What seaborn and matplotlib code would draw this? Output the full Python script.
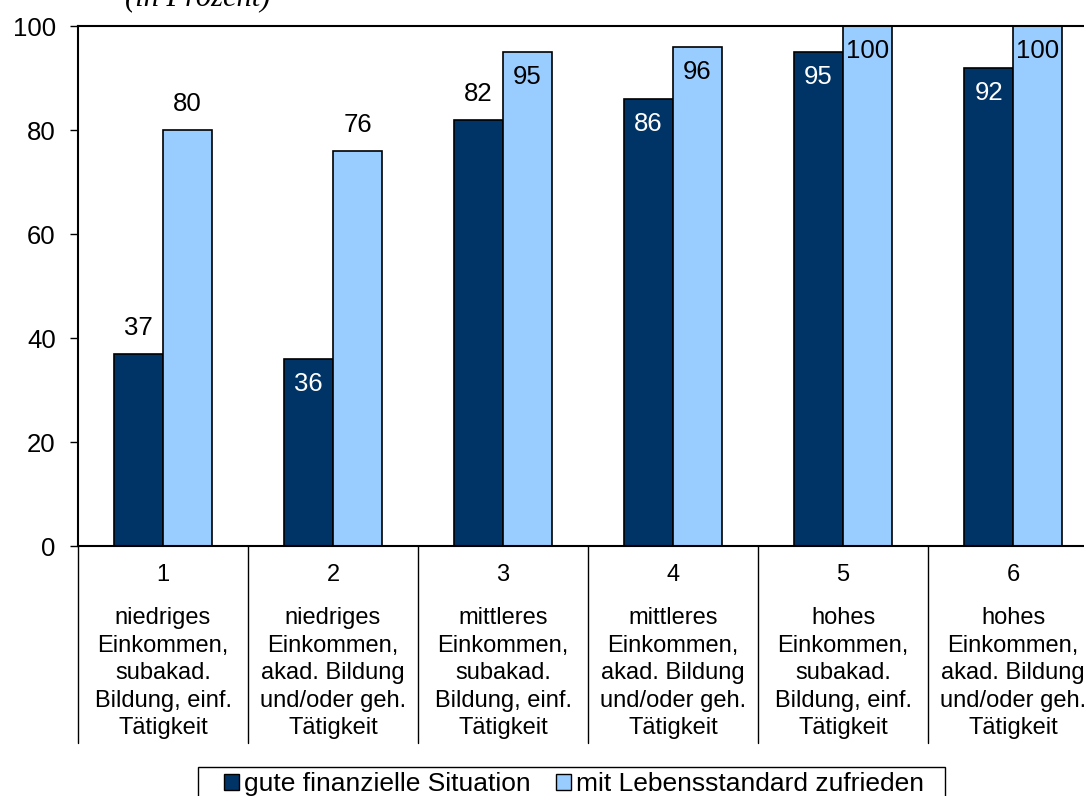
import matplotlib
matplotlib.use("Agg")
import matplotlib.pyplot as plt
import matplotlib.patches as mpatches
import matplotlib.transforms as mtransforms
import pandas as pd
import seaborn as sns

# data
groups = ["1", "2", "3", "4", "5", "6"]
descriptions = [
    "niedriges\nEinkommen,\nsubakad.\nBildung, einf.\nTätigkeit",
    "niedriges\nEinkommen,\nakad. Bildung\nund/oder geh.\nTätigkeit",
    "mittleres\nEinkommen,\nsubakad.\nBildung, einf.\nTätigkeit",
    "mittleres\nEinkommen,\nakad. Bildung\nund/oder geh.\nTätigkeit",
    "hohes\nEinkommen,\nsubakad.\nBildung, einf.\nTätigkeit",
    "hohes\nEinkommen,\nakad. Bildung\nund/oder geh.\nTätigkeit",
]
series_names = ["gute finanzielle Situation", "mit Lebensstandard zufrieden"]
finanziell = [37, 36, 82, 86, 95, 92]
zufrieden = [80, 76, 95, 96, 100, 100]
# label drawn inside the bar (True) or above it (False)
inside_fin = [False, True, False, True, True, True]
inside_zuf = [False, False, True, True, True, True]

colors = ["#003366", "#99CCFF"]

df = pd.DataFrame({
    "gruppe": groups * 2,
    "serie": [series_names[0]] * 6 + [series_names[1]] * 6,
    "wert": finanziell + zufrieden,
})

sns.set_style("white")
plt.rcParams["font.family"] = ["Liberation Sans", "DejaVu Sans"]
plt.rcParams["text.color"] = "black"

fig = plt.figure(figsize=(10.84, 7.96), dpi=100)
ax = fig.add_axes([0.072, 0.314, 0.941, 0.6533])

sns.barplot(
    data=df,
    x="gruppe",
    y="wert",
    hue="serie",
    palette=colors,
    width=0.576,
    edgecolor="black",
    linewidth=1.2,
    saturation=1,
    legend=False,
    ax=ax,
)

ax.set_xlim(-0.5, 5.5)
ax.set_ylim(0, 100)
ax.set_yticks([0, 20, 40, 60, 80, 100])
ax.tick_params(axis="y", labelsize=18.5, length=6, width=1, direction="out",
               left=True, pad=10, color="black", labelcolor="black")
ax.tick_params(axis="x", bottom=False, labelbottom=False)
ax.set_xlabel("")
ax.set_ylabel("")

for side in ["left", "top", "right", "bottom"]:
    ax.spines[side].set_color("black")
    ax.spines[side].set_linewidth(1.5)

# value labels
for container, values, inside, txt_col in zip(
    ax.containers,
    [finanziell, zufrieden],
    [inside_fin, inside_zuf],
    ["white", "black"],
):
    for bar, v, ins in zip(container, values, inside):
        xc = bar.get_x() + bar.get_width() / 2
        if ins:
            ax.text(xc, v - 4.8, str(v), ha="center", va="center",
                    fontsize=18.5, color=txt_col)
        else:
            ax.text(xc, v + 5, str(v), ha="center", va="center",
                    fontsize=18.5, color="black")

# category table below the axis
trans = mtransforms.blended_transform_factory(ax.transData, ax.transAxes)
for i, (g, d) in enumerate(zip(groups, descriptions)):
    ax.text(i, -0.056, g, transform=trans, ha="center", va="center",
            fontsize=17)
    ax.text(i, -0.118, d, transform=trans, ha="center", va="top",
            fontsize=17, linespacing=1.32)

for xb in [-0.5, 0.5, 1.5, 2.5, 3.5, 4.5, 5.5]:
    ax.plot([xb, xb], [0, -0.379], transform=trans, color="black",
            lw=1, clip_on=False)

fig.text(0.115, 1 - 5 / 796, "(in Prozent)", fontsize=22, style="italic",
         family=["Liberation Serif", "DejaVu Serif"], va="baseline",
         ha="left")

# legend (frame drawn separately, it runs off the bottom edge)
handles = [
    plt.Rectangle((0, 0), 1, 1, facecolor=c, edgecolor="black", linewidth=1)
    for c in colors
]
leg = fig.legend(
    handles,
    series_names,
    loc="center left",
    bbox_to_anchor=(224 / 1084, 1 - 784 / 796),
    ncol=2,
    frameon=False,
    fontsize=19,
    handlelength=0.55,
    handleheight=0.55,
    handletextpad=0.22,
    columnspacing=0.95,
    borderpad=0,
    borderaxespad=0,
)
frame = mpatches.Rectangle(
    (198 / 1084, -0.02), (945 - 198) / 1084, (796 - 767) / 796 + 0.02,
    transform=fig.transFigure, fill=False, edgecolor="black", linewidth=1,
)
fig.add_artist(frame)

fig.savefig("out.png", dpi=100)
plt.close(fig)
